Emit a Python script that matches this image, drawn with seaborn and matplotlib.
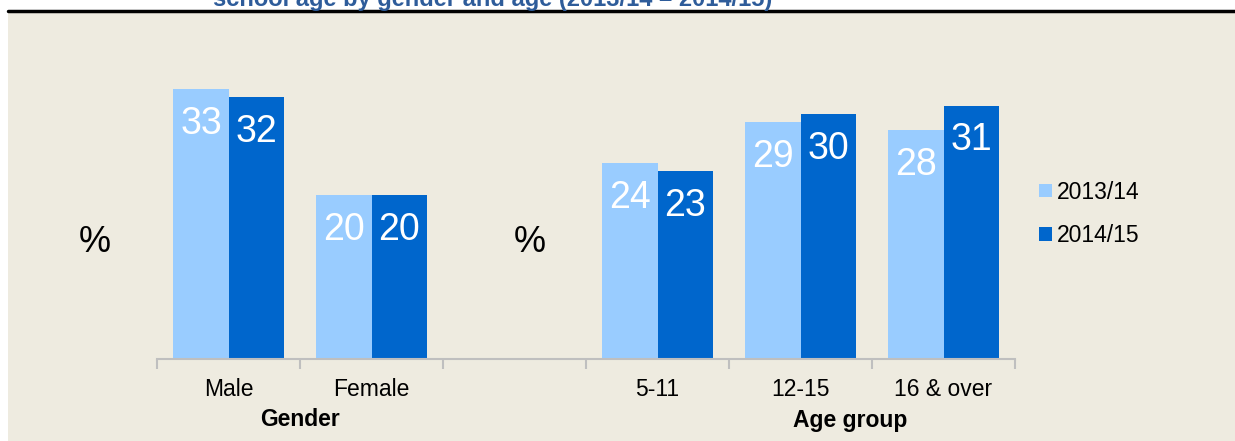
import matplotlib
matplotlib.use("Agg")
import matplotlib.pyplot as plt
import seaborn as sns
import pandas as pd
from matplotlib.patches import Patch, Rectangle
from matplotlib.lines import Line2D

categories = ["Male", "Female", "5-11", "12-15", "16 & over"]
order = ["Male", "Female", " ", "5-11", "12-15", "16 & over"]
values_2013 = [33, 20, 24, 29, 28]
values_2014 = [32, 20, 23, 30, 31]
series = ["2013/14", "2014/15"]
colors = ["#99CCFF", "#0066CC"]
title = "school age by gender and age (2013/14 \u2013 2014/15)"

sns.set_theme(style="white")
plt.rcParams["font.family"] = ["Liberation Sans", "DejaVu Sans"]
plt.rcParams["text.color"] = "black"
plt.rcParams["xtick.color"] = "black"

df = pd.DataFrame({
    "category": categories * 2,
    "year": [series[0]] * len(categories) + [series[1]] * len(categories),
    "value": values_2013 + values_2014,
})

W, H = 1235, 441
fig = plt.figure(figsize=(W / 100, H / 100), dpi=100, facecolor="white")
bg = "#EEEBE0"
fig.add_artist(Rectangle((8 / W, 0), 1 - 8 / W, (H - 13) / H, transform=fig.transFigure,
                         facecolor=bg, edgecolor="none", zorder=0))
fig.add_artist(Line2D([8 / W, 1], [(H - 11) / H, (H - 11) / H], transform=fig.transFigure,
                      color="black", lw=2.5, zorder=1))
fig.text(213 / W, (H - 6) / H, title, color="#2E5C9A", fontsize=17, fontweight="bold",
         ha="left", va="baseline")

ax = fig.add_axes([157 / W, (H - 359) / H, (1015 - 157) / W, (359 - 32) / H])
ax.set_facecolor("none")
sns.barplot(data=df, x="category", y="value", hue="year", order=order, hue_order=series,
            palette=colors, width=0.77, saturation=1, legend=False, ax=ax, errorbar=None,
            linewidth=0, edgecolor="none")
ax.set_xlim(-0.5, 5.5)
ax.set_ylim(0, 40)
for c in ax.containers:
    ax.bar_label(c, fmt="%d", label_type="edge", padding=-38, color="white", fontsize=27)

for s in ["top", "right", "left"]:
    ax.spines[s].set_visible(False)
ax.spines["bottom"].set_color("#BFBFBF")
ax.spines["bottom"].set_linewidth(1.5)
ax.set_yticks([])
ax.set_xticks(range(6))
ax.set_xticklabels(order, fontsize=16.5, color="black")
ax.tick_params(axis="x", which="major", bottom=False, length=0, pad=14)
ax.set_xticks([i - 0.5 for i in range(7)], minor=True)
ax.tick_params(axis="x", which="minor", bottom=True, length=7, width=1.5, color="#BFBFBF",
               direction="out")
ax.set_xlabel("")
ax.set_ylabel("")

fig.text(300 / W, (H - 420) / H, "Gender", fontsize=16.5, fontweight="bold", ha="center", va="center")
fig.text(850 / W, (H - 420) / H, "Age group", fontsize=16.5, fontweight="bold", ha="center", va="center")
fig.text(95 / W, (H - 243) / H, "%", fontsize=26, ha="center", va="center")
fig.text(530 / W, (H - 243) / H, "%", fontsize=26, ha="center", va="center")

handles = [Patch(facecolor=col, edgecolor="none", label=lab) for col, lab in zip(colors, series)]
leg = fig.legend(handles=handles, loc="center left", bbox_to_anchor=(1039 / W, (H - 214) / H),
                 frameon=False, fontsize=16.5, handlelength=0.55, handleheight=0.55,
                 handletextpad=0.25, labelspacing=0.9, borderpad=0, borderaxespad=0)

fig.savefig("out.png", dpi=100, facecolor="white")
